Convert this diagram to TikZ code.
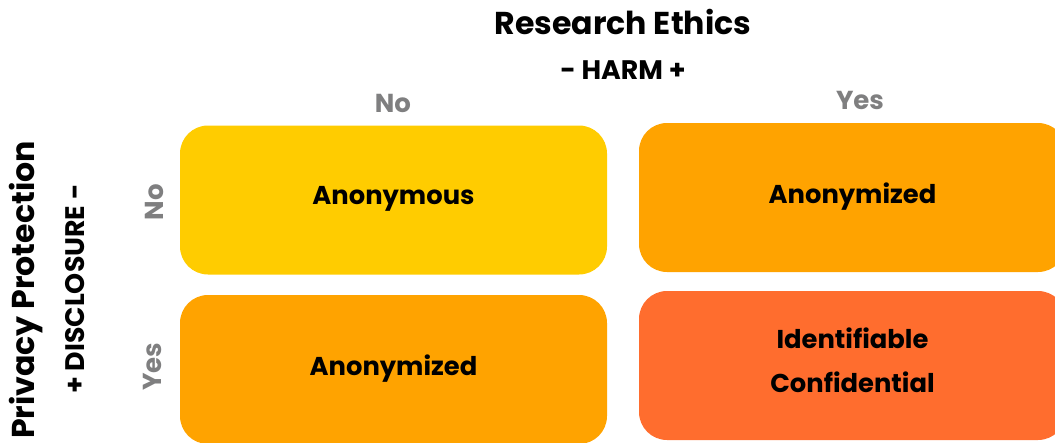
\documentclass[tikz,border=0pt]{standalone}
\usepackage{fontspec}
\setmainfont{Poppins}
\definecolor{cyellow}{HTML}{FFCC00}
\definecolor{corange}{HTML}{FFA300}
\definecolor{cred}{HTML}{FF6D2E}
\definecolor{cgrey}{HTML}{7F7F80}
\begin{document}
\begin{tikzpicture}[x=1pt,y=-1pt,
  cell/.style={rounded corners=28pt, minimum width=427pt, minimum height=149pt, inner sep=0pt},
  celltext/.style={font=\fontsize{25.8}{44}\selectfont\bfseries, align=center, text=black, inner sep=0pt},
  title/.style={font=\fontsize{31.6}{36}\selectfont\bfseries, text=black, inner sep=0pt},
  sub/.style={font=\fontsize{26.8}{30}\selectfont\bfseries, text=black, inner sep=0pt},
  axis/.style={font=\fontsize{26}{30}\selectfont\bfseries, text=cgrey, inner sep=0pt}]
\useasboundingbox (0,0) rectangle (1055,442);
\clip (0,0) rectangle (1055,442);
\node[cell, fill=cyellow] (nn) at (393.5,200) {};
\node[cell, fill=corange] (ny) at (852.5,197.5) {};
\node[cell, fill=corange] (yn) at (393.5,369.5) {};
\node[cell, fill=cred] (yy) at (852.5,365.5) {};
\node[celltext] (tnn) at ([yshift=1pt]nn.center) {Anonymous};
\node[celltext] (tny) at ([yshift=1pt]ny.center) {Anonymized};
\node[celltext] (tyn) at ([yshift=1pt]yn.center) {Anonymized};
\node[celltext] (tyy) at ([yshift=5pt]yy.center) {Identifiable\\Confidential};
\node[title] (rt) at (623,22) {Research Ethics};
\node[sub] (harm) at (623,70) {- HARM +};
\node[axis] (cno) at (393,103) {No};
\node[axis] (cyes) at (860,100) {Yes};
\node[title, rotate=90] (pp) at (26,290) {Privacy Protection};
\node[sub, rotate=90] (disc) at (75,289) {+ DISCLOSURE -};
\node[axis, rotate=90] (rno) at (154,202) {No};
\node[axis, rotate=90] (ryes) at (152,367) {Yes};
\end{tikzpicture}
\end{document}
